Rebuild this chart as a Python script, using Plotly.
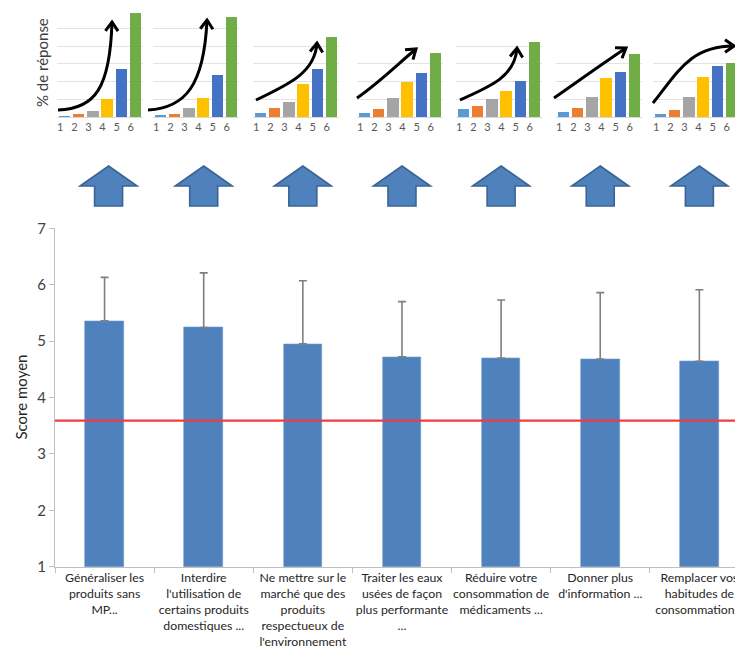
import math
import plotly.graph_objects as go

# ---------------- data ----------------
CATEGORIES = [
    "Généraliser les<br>produits sans<br>MP...",
    "Interdire<br>l'utilisation de<br>certains produits<br>domestiques ...",
    "Ne mettre sur le<br>marché que des<br>produits<br>respectueux de<br>l'environnement",
    "Traiter les eaux<br>usées de façon<br>plus performante<br>...",
    "Réduire votre<br>consommation de<br>médicaments ...",
    "Donner plus<br>d'information ...",
    "Remplacer vos<br>habitudes de<br>consommation ..",
]
SCORE_MEAN = [5.36, 5.24, 4.95, 4.72, 4.70, 4.68, 4.64]
SCORE_SD = [0.77, 0.97, 1.12, 0.98, 1.03, 1.18, 1.27]
THRESHOLD = 3.59

MINI_LABELS = ["1", "2", "3", "4", "5", "6"]
MINI_1 = [0.07, 0.17, 0.34, 1.03, 2.71, 5.86]
MINI_2 = [0.11, 0.17, 0.49, 1.09, 2.39, 5.67]
MINI_3 = [0.25, 0.51, 0.85, 1.85, 2.73, 4.52]
MINI_4 = [0.23, 0.47, 1.10, 2.03, 2.54, 3.64]
MINI_5 = [0.45, 0.62, 1.00, 1.47, 2.06, 4.24]
MINI_6 = [0.25, 0.51, 1.11, 2.17, 2.51, 3.54]
MINI_7 = [0.19, 0.42, 1.13, 2.28, 2.88, 3.05]
MINIS = [MINI_1, MINI_2, MINI_3, MINI_4, MINI_5, MINI_6, MINI_7]
MINI_COLORS = ["#5B9BD5", "#ED7D31", "#A5A5A5", "#FFC000", "#4472C4", "#70AD47"]

# ---------------- layout helpers ----------------
# page body has an 8px margin: the figure starts at (8, 8) in the window
OFF = 8
FW, FH = 743 - OFF, 665 - 2 * OFF
FONT = "Lato, 'Liberation Sans', sans-serif"


def px(x):
    return (x - OFF) / FW


def py(y):
    return 1 - (y - OFF) / FH


fig = go.Figure()

# main chart
X_DOM = [px(55), 1.0]
Y_DOM = [py(566.7), py(228.3)]
X_RANGE = [-0.5, 6.44]

fig.add_trace(go.Bar(
    x=CATEGORIES, y=SCORE_MEAN, width=0.39,
    marker=dict(color="#4F81BD", line=dict(color="#6F9AD0", width=0.6)),
    error_y=dict(type="data", array=SCORE_SD, arrayminus=[0] * len(SCORE_SD),
                 symmetric=False, color="#7F7F7F", thickness=1.6, width=4),
    xaxis="x", yaxis="y", showlegend=False,
))

layout = dict(
    width=FW, height=FH, margin=dict(l=0, r=0, t=0, b=0),
    paper_bgcolor="white", plot_bgcolor="white",
    font=dict(family=FONT, color="#262626"),
    showlegend=False, bargap=0,
    xaxis=dict(domain=X_DOM, range=X_RANGE, type="category", anchor="y",
               showline=True, linecolor="#BFBFBF", linewidth=1,
               ticks="outside", tickson="boundaries", ticklen=5, tickcolor="#BFBFBF",
               tickfont=dict(size=12.3, color="#262626"), showgrid=False,
               tickangle=0, automargin=False),
    yaxis=dict(domain=Y_DOM, range=[1, 7], dtick=1, anchor="x",
               showline=True, linecolor="#BFBFBF", linewidth=1,
               ticks="outside", ticklen=5, tickcolor="#BFBFBF",
               tickfont=dict(size=15, color="#404040"), showgrid=False,
               zeroline=False, automargin=False),
)

# mini charts
MINI_LEFT = [56.5, 152.5, 252.5, 356.5, 455.5, 555.5, 652.5]
MINI_W = 86
BASE = 117
UNIT = 17.7
for k, vals in enumerate(MINIS):
    n = k + 2
    ymax = max(max(vals) + 0.06, 6.05 if max(vals) > 5 else 0)
    fig.add_trace(go.Bar(
        x=list(range(6)), y=vals, width=0.8,
        marker=dict(color=MINI_COLORS, line=dict(width=0)),
        xaxis=f"x{n}", yaxis=f"y{n}", showlegend=False, hoverinfo="skip",
    ))
    layout[f"xaxis{n}"] = dict(
        domain=[px(MINI_LEFT[k]), px(MINI_LEFT[k] + MINI_W)], range=[-0.55, 5.55],
        anchor=f"y{n}", tickvals=list(range(6)), ticktext=MINI_LABELS,
        showline=True, linecolor="#D9D9D9", ticks="", showgrid=False,
        zeroline=False, tickfont=dict(size=11, color="#595959"), fixedrange=True,
        ticklabelshift=-4,
    )
    layout[f"yaxis{n}"] = dict(
        domain=[py(BASE), py(BASE - ymax * UNIT)], range=[0, ymax], dtick=1,
        anchor=f"x{n}", showticklabels=False, showgrid=True, gridcolor="#E3E3E3",
        zeroline=False, fixedrange=True,
    )

fig.update_layout(**layout)

shapes = []
# threshold line
shapes.append(dict(type="line", xref="paper", yref="y", x0=X_DOM[0], x1=1.0,
                   y0=THRESHOLD, y1=THRESHOLD, line=dict(color="#F23A40", width=2.2),
                   layer="above"))


# blue up arrows above each category
def cat_to_paper(c):
    return X_DOM[0] + (c - X_RANGE[0]) / (X_RANGE[1] - X_RANGE[0]) * (X_DOM[1] - X_DOM[0])


for i in range(len(CATEGORIES)):
    cx = cat_to_paper(i) * FW + OFF + (4 if i == 0 else 0)
    hw, sw = 28.5, 14
    tip, sh, bot = 166, 186, 206
    pts = [(cx, tip), (cx + hw, sh), (cx + sw, sh), (cx + sw, bot),
           (cx - sw, bot), (cx - sw, sh), (cx - hw, sh)]
    path = "M " + " L ".join(f"{px(a):.5f},{py(b):.5f}" for a, b in pts) + " Z"
    shapes.append(dict(type="path", xref="paper", yref="paper", path=path,
                       fillcolor="#4F81BD", line=dict(color="#3A6494", width=1.6)))

# black curved arrows on mini charts (pixel control points, decoration)
ARROWS = [
    [(58, 110), (95, 109), (110, 88), (112, 22)],
    [(148, 110), (185, 108), (204, 86), (207, 20)],
    [(256, 100), (290, 84), (315, 72), (317, 43)],
    [(357, 98), (380, 82), (400, 62), (416, 49)],
    [(460, 100), (492, 86), (515, 76), (517, 48)],
    [(554, 98), (577, 82), (602, 64), (626, 48)],
    [(653, 103), (678, 72), (690, 46), (734, 46)],
]
for P in ARROWS:
    path = (f"M {px(P[0][0]):.5f},{py(P[0][1]):.5f} C "
            + " ".join(f"{px(a):.5f},{py(b):.5f}" for a, b in P[1:]))
    shapes.append(dict(type="path", xref="paper", yref="paper", path=path,
                       line=dict(color="black", width=3)))
    dx, dy = P[3][0] - P[2][0], P[3][1] - P[2][1]
    L = math.hypot(dx, dy)
    ux, uy = dx / L, dy / L
    arms = []
    for ang in (35, -35):
        a = math.radians(ang)
        rx = (-ux) * math.cos(a) - (-uy) * math.sin(a)
        ry = (-ux) * math.sin(a) + (-uy) * math.cos(a)
        arms.append((P[3][0] + 11 * rx, P[3][1] + 11 * ry))
    tip = P[3]
    hp = (f"M {px(arms[0][0]):.5f},{py(arms[0][1]):.5f} L {px(tip[0]):.5f},{py(tip[1]):.5f} "
          f"L {px(arms[1][0]):.5f},{py(arms[1][1]):.5f}")
    shapes.append(dict(type="path", xref="paper", yref="paper", path=hp,
                       line=dict(color="black", width=3)))

annotations = [
    dict(text="Score moyen", x=px(20), y=(Y_DOM[0] + Y_DOM[1]) / 2, xref="paper", yref="paper",
         textangle=-90, showarrow=False, font=dict(size=15, color="#262626"),
         xanchor="center", yanchor="middle"),
    dict(text="% de réponse", x=px(42), y=py(63), xref="paper", yref="paper",
         textangle=-90, showarrow=False, font=dict(size=15, color="#404040"),
         xanchor="center", yanchor="middle"),
]

fig.update_layout(shapes=shapes, annotations=annotations)
fig.write_html("out.html")
